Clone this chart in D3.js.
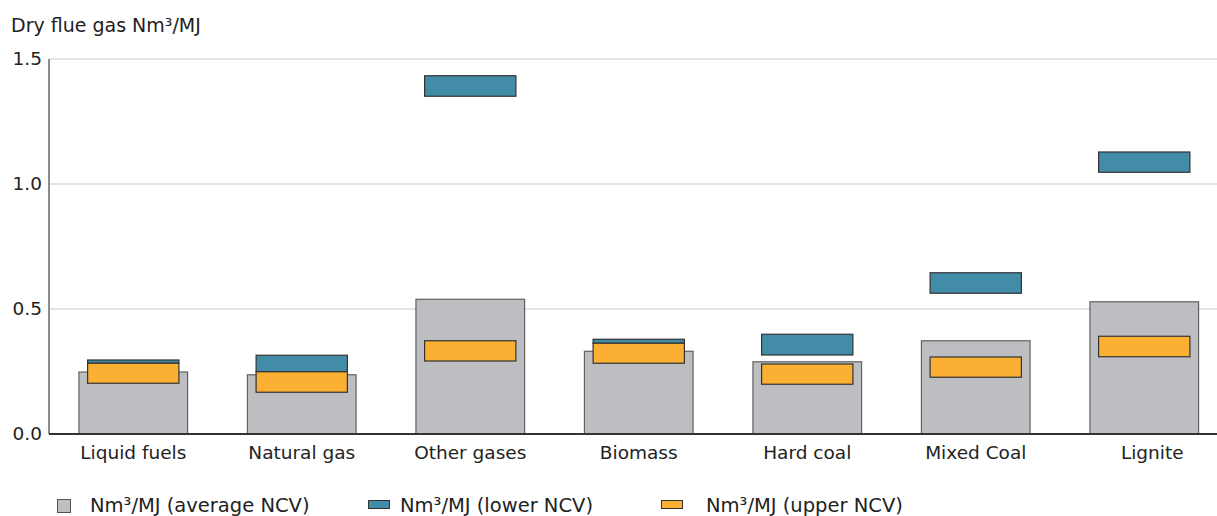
<!DOCTYPE html>
<html><head><meta charset="utf-8">
<script src="https://cdn.jsdelivr.net/npm/d3@7/dist/d3.min.js"></script>
<style>body{margin:0;background:#fff}svg{display:block}text{font-family:"DejaVu Sans",Verdana,sans-serif;fill:#222}</style>
</head><body>
<svg id="c" width="1217" height="516"></svg>
<script>
const categories = ["Liquid fuels","Natural gas","Other gases","Biomass","Hard coal","Mixed Coal","Lignite"];
const averageNCV = [0.248,0.237,0.539,0.331,0.289,0.373,0.529];
const lowerLow  = [0.283,0.249,1.351,0.363,0.316,0.563,1.047];
const lowerHigh = [0.296,0.315,1.433,0.379,0.399,0.645,1.128];
const upperLow  = [0.203,0.167,0.292,0.283,0.199,0.227,0.309];
const upperHigh = [0.283,0.249,0.373,0.363,0.280,0.308,0.391];
const yTicks = [0,0.5,1.0,1.5];
const yTickLabels = ["0.0","0.5","1.0","1.5"];
const legendLabels = ["Nm³/MJ (average NCV)","Nm³/MJ (lower NCV)","Nm³/MJ (upper NCV)"];

const svg = d3.select("#c");
const mLeft = 49, mRight = 1217, mTop = 59, mBottom = 434;
const x = d3.scaleBand().domain(categories).range([mLeft, mLeft + 168.5*7]).paddingInner(0.355).paddingOuter(0.1775);
const y = d3.scaleLinear().domain([0,1.5]).range([mBottom, mTop]);
const inner = x.bandwidth()*0.84;

// gridlines
svg.append("g").selectAll("line").data(yTicks.slice(1)).join("line")
  .attr("x1", mLeft).attr("x2", mRight).attr("y1", d=>y(d)).attr("y2", d=>y(d))
  .attr("stroke","#c8c8c8").attr("stroke-width",1);

// y axis
const yAxis = d3.axisLeft(y).tickValues(yTicks).tickFormat((d,i)=>yTickLabels[i]).tickSize(0).tickPadding(7);
const ga = svg.append("g").attr("transform",`translate(${mLeft},0)`).call(yAxis);
ga.select(".domain").remove();
ga.selectAll("text").style("font-family","DejaVu Sans, Verdana, sans-serif").style("font-size","18.5px").attr("fill","#222");
svg.append("line").attr("x1",mLeft).attr("x2",mLeft).attr("y1",mTop).attr("y2",mBottom).attr("stroke","#666").attr("stroke-width",1.5);

// grey average bars
svg.append("g").selectAll("rect").data(categories).join("rect")
  .attr("x", d=>x(d)).attr("width", x.bandwidth())
  .attr("y", (d,i)=>y(averageNCV[i])).attr("height",(d,i)=>y(0)-y(averageNCV[i]))
  .attr("fill","#bcbec1").attr("stroke","#444").attr("stroke-opacity",0.8).attr("stroke-width",1.2);

// lower NCV (blue) floating bars
svg.append("g").selectAll("rect").data(categories).join("rect")
  .attr("x", d=>x(d)+(x.bandwidth()-inner)/2).attr("width", inner)
  .attr("y", (d,i)=>y(lowerHigh[i])).attr("height",(d,i)=>y(lowerLow[i])-y(lowerHigh[i]))
  .attr("fill","#428ca7").attr("stroke","#333").attr("stroke-width",1.2);

// upper NCV (orange) floating bars
svg.append("g").selectAll("rect").data(categories).join("rect")
  .attr("x", d=>x(d)+(x.bandwidth()-inner)/2).attr("width", inner)
  .attr("y", (d,i)=>y(upperHigh[i])).attr("height",(d,i)=>y(upperLow[i])-y(upperHigh[i]))
  .attr("fill","#fbb034").attr("stroke","#333").attr("stroke-width",1.2);

// zero line
svg.append("line").attr("x1",mLeft).attr("x2",mRight).attr("y1",y(0)).attr("y2",y(0)).attr("stroke","#333").attr("stroke-width",2);

// x axis labels
const xAxis = d3.axisBottom(x).tickSize(0).tickPadding(12);
const gx = svg.append("g").attr("transform",`translate(0,${mBottom})`).call(xAxis);
gx.select(".domain").remove();
gx.selectAll("text").style("font-family","DejaVu Sans, Verdana, sans-serif").style("font-size","18.5px").attr("fill","#222")
  .attr("dx",(d,i)=> i===categories.length-1 ? 8 : 0);

// title
svg.append("text").attr("x",11).attr("y",32).style("font-size","19px").text("Dry flue gas Nm³/MJ");

// legend
const leg = svg.append("g");
leg.append("rect").attr("x",57.5).attr("y",499.5).attr("width",13).attr("height",13).attr("fill","#bcbec1").attr("stroke","#555");
leg.append("rect").attr("x",368.5).attr("y",500.5).attr("width",21).attr("height",8).attr("fill","#428ca7").attr("stroke","#333");
leg.append("rect").attr("x",661.5).attr("y",500.5).attr("width",21).attr("height",8).attr("fill","#fbb034").attr("stroke","#333");
const legX = [90,400,706];
leg.selectAll("text").data(legendLabels).join("text")
  .attr("x",(d,i)=>legX[i]).attr("y",511.5).style("font-size","19.5px").text(d=>d);
</script>
</body></html>
